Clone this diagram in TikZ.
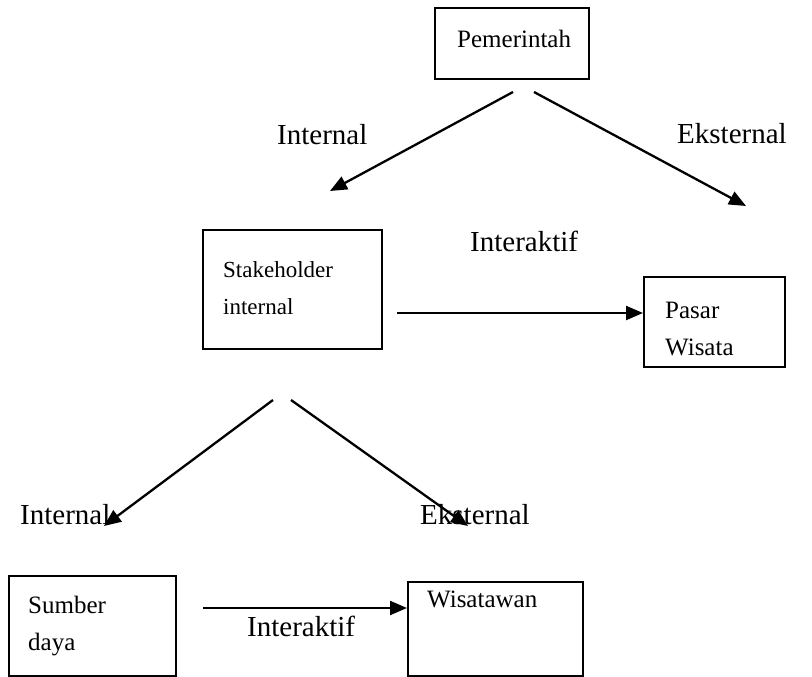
\documentclass[tikz,border=0pt]{standalone}
\usepackage{fontspec}
\setmainfont{Liberation Serif}
\usetikzlibrary{arrows.meta}
\tikzset{
    kotak/.style={draw, line width=2pt, anchor=north west, inner sep=0pt},
    isi/.style={font=\fontsize{25}{37}\selectfont, anchor=base west, align=left, inner sep=0pt},
    teks/.style={font=\fontsize{29}{34}\selectfont, anchor=base west, inner sep=0pt},
    panah/.style={line width=2.3pt, -{Triangle[length=17pt,width=14pt]}}
}
\begin{document}
\begin{tikzpicture}[x=1pt,y=-1pt]
            \useasboundingbox (0,0) rectangle (812,677);
            %kotak
            \node[kotak, minimum width=154pt, minimum height=71pt] (pem) at (434,7) {};
            \node[isi] (tpem) at (457,48) {Pemerintah};
            \node[kotak, minimum width=179pt, minimum height=119pt] (stk) at (202,229) {};
            \node[isi, font=\fontsize{23}{37}\selectfont] (tstk) at (223,314) {Stakeholder\\internal};
            \node[kotak, minimum width=141pt, minimum height=90pt] (psr) at (643,276) {};
            \node[isi] (tpsr) at (665,355) {Pasar\\Wisata};
            \node[kotak, minimum width=167pt, minimum height=100pt] (sdy) at (8,575) {};
            \node[isi] (tsdy) at (28,650) {Sumber\\daya};
            \node[kotak, minimum width=175pt, minimum height=94pt] (wst) at (407,581) {};
            \node[isi] (twst) at (427,607) {Wisatawan};
            %titik panah
            \coordinate (a1) at (513,92);
            \coordinate (a2) at (330,191);
            \coordinate (b1) at (534,92);
            \coordinate (b2) at (746,206);
            \coordinate (c1) at (397,313);
            \coordinate (d1) at (273,400);
            \coordinate (d2) at (104,526);
            \coordinate (e1) at (291,400);
            \coordinate (e2) at (468,526);
            \coordinate (f1) at (203,608);
            %panah
            \draw[panah] (a1) -- (a2);
            \draw[panah] (b1) -- (b2);
            \draw[panah] (c1) -- (psr.west |- c1);
            \draw[panah] (d1) -- (d2);
            \draw[panah] (e1) -- (e2);
            \draw[panah] (f1) -- (wst.west |- f1);
            %label
            \node[teks] (l1) at (277,144) {Internal};
            \node[teks] (l2) at (677,143) {Eksternal};
            \node[teks] (l3) at (470,251) {Interaktif};
            \node[teks] (l4) at (20,524) {Internal};
            \node[teks] (l5) at (420,524) {Eksternal};
            \node[teks] (l6) at (247,636) {Interaktif};
\end{tikzpicture}
\end{document}
